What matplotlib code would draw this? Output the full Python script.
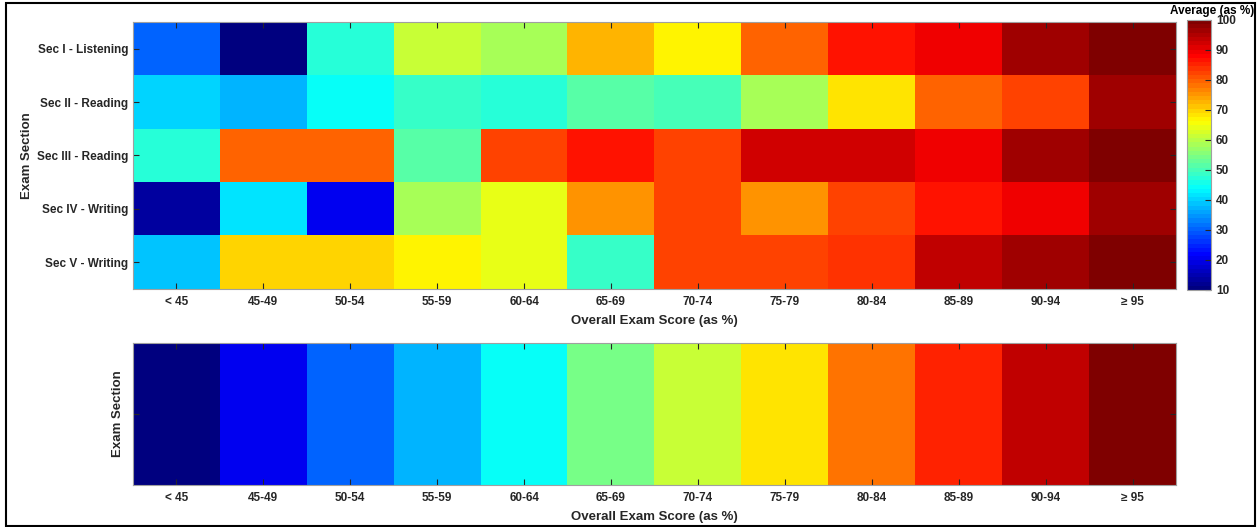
import numpy as np
import matplotlib
matplotlib.use('Agg')
import matplotlib.pyplot as plt
from matplotlib.colors import LinearSegmentedColormap
from matplotlib.patches import Rectangle

plt.rcParams['font.family'] = ['Liberation Sans', 'DejaVu Sans']
plt.rcParams['font.weight'] = 'bold'

# data
score_bins = ['< 45', '45-49', '50-54', '55-59', '60-64', '65-69',
              '70-74', '75-79', '80-84', '85-89', '90-94', '\u2265 95']
sections = ['Sec I - Listening', 'Sec II - Reading', 'Sec III - Reading',
            'Sec IV - Writing', 'Sec V - Writing']

sec1 = [31, 11, 47, 62, 58, 72, 67, 79, 86, 89, 97, 100]
sec2 = [40, 37, 44, 48, 47, 51, 50, 59, 69, 79, 82, 96]
sec3 = [47, 80, 79, 52, 82, 87, 82, 92, 92, 89, 97, 100]
sec4 = [14, 41, 21, 59, 64, 75, 83, 75, 83, 87, 90, 96]
sec5 = [39, 70, 70, 67, 64, 48, 82, 83, 84, 94, 97, 100]

overall = [10, 21, 30, 38, 45, 54, 61, 69, 78, 85, 93, 100]

vmin, vmax = 10, 100

# MATLAB style jet, 64 levels
jet = LinearSegmentedColormap('mjet', {
    'red':   [(0, 0, 0), (0.375, 0, 0), (0.625, 1, 1), (0.875, 1, 1), (1, 0.5, 0.5)],
    'green': [(0, 0, 0), (0.125, 0, 0), (0.375, 1, 1), (0.625, 1, 1), (0.875, 0, 0), (1, 0, 0)],
    'blue':  [(0, 0.5, 0.5), (0.125, 1, 1), (0.375, 1, 1), (0.625, 0, 0), (1, 0, 0)],
}, N=64)

txt = '#262626'
spine = '#a0a0a0'

fig = plt.figure(figsize=(12.57, 5.27), dpi=100)
W, H = 1257, 527

def px_axes(x0, y0, x1, y1):
    return fig.add_axes([x0 / W, 1 - y1 / H, (x1 - x0) / W, (y1 - y0) / H])

def style(ax):
    for s in ax.spines.values():
        s.set_color(spine)
        s.set_linewidth(0.8)
    ax.tick_params(direction='in', length=4, width=0.8, color=txt,
                   top=True, right=True, labelsize=8.5, labelcolor=txt)
    for lab in ax.get_xticklabels() + ax.get_yticklabels():
        lab.set_fontweight('bold')

# top heatmap
ax1 = px_axes(133, 22, 1176, 289)
grid = np.array([sec1, sec2, sec3, sec4, sec5])
im = ax1.imshow(grid, cmap=jet, vmin=vmin, vmax=vmax, aspect='auto',
                interpolation='nearest')
ax1.set_xticks(range(len(score_bins)))
ax1.set_xticklabels(score_bins)
ax1.set_yticks(range(len(sections)))
ax1.set_yticklabels(sections)
ax1.set_xlabel('Overall Exam Score (as %)', fontsize=9.5, fontweight='bold',
               color=txt, labelpad=5)
ax1.set_ylabel('Exam Section', fontsize=9.5, fontweight='bold', color=txt,
               labelpad=3)
style(ax1)
ax1.tick_params(axis='x', pad=5)

# colorbar
cax = px_axes(1187, 20, 1211, 290)
cb = fig.colorbar(im, cax=cax, ticks=range(10, 101, 10))
cb.outline.set_edgecolor(spine)
cb.outline.set_linewidth(0.8)
cax.tick_params(direction='in', length=4, width=0.8, color=txt,
                labelsize=8.5, labelcolor=txt)
for lab in cax.get_yticklabels():
    lab.set_fontweight('bold')
fig.text(1254 / W, 1 - 11 / H, 'Average (as %)', ha='right', va='center',
         fontsize=8.5, fontweight='bold', color='black')

# bottom heatmap
ax2 = px_axes(133, 343, 1176, 485)
ax2.imshow(np.array([overall]), cmap=jet, vmin=vmin, vmax=vmax,
           aspect='auto', interpolation='nearest')
ax2.set_xticks(range(len(score_bins)))
ax2.set_xticklabels(score_bins)
ax2.set_yticks([0])
ax2.set_yticklabels([''])
ax2.set_xlabel('Overall Exam Score (as %)', fontsize=9.5, fontweight='bold',
               color=txt, labelpad=5)
ax2.set_ylabel('Exam Section', fontsize=9.5, fontweight='bold', color=txt,
               labelpad=3)
style(ax2)
ax2.tick_params(axis='x', pad=5)

# figure border
fig.patches.append(Rectangle((6 / W, 1 / H), 1249 / W, 1 - 4 / H,
                             transform=fig.transFigure, fill=False,
                             edgecolor='black', linewidth=1.5))

fig.savefig('out.png', dpi=100)
